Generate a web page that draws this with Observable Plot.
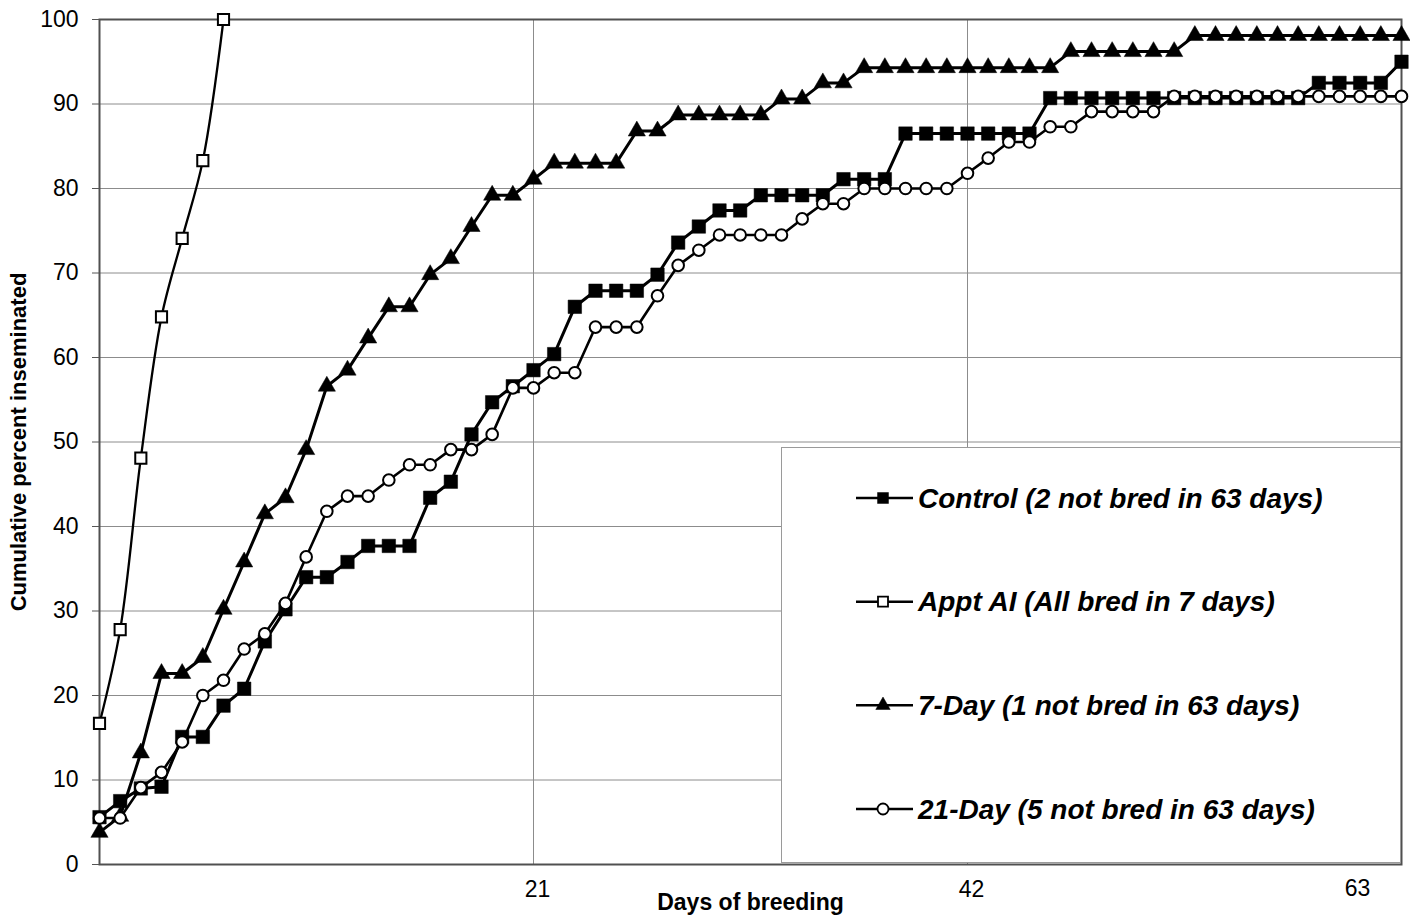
<!DOCTYPE html>
<html>
<head>
<meta charset="utf-8">
<script src="https://cdn.jsdelivr.net/npm/d3@7"></script>
<script src="https://cdn.jsdelivr.net/npm/@observablehq/plot@0.6"></script>
<style>
  body { margin: 0; background: #fff; }
  #chart { position: relative; width: 1410px; height: 917px; }
  #legend { position: absolute; left: 781px; top: 447px; width: 620px; height: 416px;
            box-sizing: border-box; border: 1px solid #9a9a9a; background: #fff; }
</style>
</head>
<body>
<div id="chart"></div>
<script>
// ---- data ----
const days = [0,1,2,3,4,5,6,7,8,9,10,11,12,13,14,15,16,17,18,19,20,21,22,23,24,25,26,27,28,29,30,31,
  32,33,34,35,36,37,38,39,40,41,42,43,44,45,46,47,48,49,50,51,52,53,54,55,56,57,58,59,60,61,62,63];

const control = [5.6,7.5,9.0,9.2,15.1,15.1,18.8,20.8,26.4,30.2,34.0,34.0,35.8,37.7,37.7,37.7,
  43.4,45.3,50.9,54.7,56.6,58.5,60.4,66.0,67.9,67.9,67.9,69.8,73.6,75.5,77.4,77.4,
  79.2,79.2,79.2,79.2,81.1,81.1,81.1,86.5,86.5,86.5,86.5,86.5,86.5,86.5,90.7,90.7,
  90.7,90.7,90.7,90.7,90.7,90.7,90.7,90.7,90.7,90.7,90.7,92.5,92.5,92.5,92.5,95.0];

const apptAI = [16.7,27.8,48.1,64.8,74.1,83.3,100.0];

const sevenDay = [3.8,5.7,13.2,22.6,22.6,24.5,30.2,35.8,41.5,43.4,49.1,56.6,58.5,62.3,66.0,66.0,
  69.8,71.7,75.5,79.2,79.2,81.1,83.0,83.0,83.0,83.0,86.8,86.8,88.7,88.7,88.7,88.7,
  88.7,90.6,90.6,92.5,92.5,94.3,94.3,94.3,94.3,94.3,94.3,94.3,94.3,94.3,94.3,96.2,
  96.2,96.2,96.2,96.2,96.2,98.1,98.1,98.1,98.1,98.1,98.1,98.1,98.1,98.1,98.1,98.1];

const twentyOneDay = [5.5,5.5,9.1,10.9,14.5,20.0,21.8,25.5,27.3,30.9,36.4,41.8,43.6,43.6,45.5,47.3,
  47.3,49.1,49.1,50.9,56.4,56.4,58.2,58.2,63.6,63.6,63.6,67.3,70.9,72.7,74.5,74.5,
  74.5,74.5,76.4,78.2,78.2,80.0,80.0,80.0,80.0,80.0,81.8,83.6,85.5,85.5,87.3,87.3,
  89.1,89.1,89.1,89.1,90.9,90.9,90.9,90.9,90.9,90.9,90.9,90.9,90.9,90.9,90.9,90.9];

const seriesNames = ["Control (2 not bred in 63 days)", "Appt AI (All bred in 7 days)",
  "7-Day (1 not bred in 63 days)", "21-Day (5 not bred in 63 days)"];

const yTicks = [0,10,20,30,40,50,60,70,80,90,100];
const xGridTicks = [21,42];
const xLastTick = [63];
const xLabel = "Days of breeding";
const yLabel = "Cumulative percent inseminated";

// ---- tables ----
const rows = vals => vals.map((v, i) => ({day: days[i], value: v}));
const controlRows = rows(control);
const apptRows = rows(apptAI);
const sevenRows = rows(sevenDay);
const twentyOneRows = rows(twentyOneDay);

const FONT = "'Liberation Sans', Arial, sans-serif";

const chart = Plot.plot({
  width: 1410,
  height: 917,
  marginLeft: 99,
  marginTop: 19,
  marginRight: 9,
  marginBottom: 53,
  x: {domain: [0, 63]},
  y: {domain: [0, 100]},
  style: {fontFamily: FONT, background: "#fff", color: "#000"},
  marks: [
    Plot.gridY(yTicks, {stroke: "#8c8c8c", strokeOpacity: 1, strokeWidth: 1}),
    Plot.gridX(xGridTicks, {stroke: "#8c8c8c", strokeOpacity: 1, strokeWidth: 1}),
    Plot.frame({stroke: "#505050", strokeWidth: 2}),
    Plot.axisY(yTicks, {tickSize: 7, tickPadding: 14, fontSize: 23, label: null, stroke: "#555"}),
    Plot.axisX(xGridTicks, {tickSize: 0, tickPadding: 16, fontSize: 23, label: null, dx: 4}),
    Plot.text(xLastTick, {x: d => d, text: d => String(d), frameAnchor: "bottom", dy: 24, dx: -44,
      fontSize: 23, lineAnchor: "middle", fill: "#000"}),

    // Control
    Plot.line(controlRows, {x: "day", y: "value", stroke: "#000", strokeWidth: 3}),
    Plot.dot(controlRows, {x: "day", y: "value", symbol: "square", r: 7.6, fill: "#000", stroke: "#000", strokeWidth: 0.5}),
    // Appt AI
    Plot.line(apptRows, {x: "day", y: "value", stroke: "#000", strokeWidth: 2.3, curve: "catmull-rom"}),
    Plot.dot(apptRows, {x: "day", y: "value", symbol: "square", r: 6.3, fill: "#fff", stroke: "#000", strokeWidth: 2}),
    // 7-Day
    Plot.line(sevenRows, {x: "day", y: "value", stroke: "#000", strokeWidth: 3}),
    Plot.dot(sevenRows, {x: "day", y: "value", symbol: "triangle", r: 6.4, fill: "#000", stroke: "#000", strokeWidth: 0.5}),
    // 21-Day
    Plot.line(twentyOneRows, {x: "day", y: "value", stroke: "#000", strokeWidth: 2.6}),
    Plot.dot(twentyOneRows, {x: "day", y: "value", symbol: "circle", r: 5.8, fill: "#fff", stroke: "#000", strokeWidth: 2}),

    // axis titles
    Plot.text([xLabel], {text: d => d, frameAnchor: "bottom", dy: 38, lineAnchor: "middle", textAnchor: "middle",
      fontSize: 23, fontWeight: "bold", fill: "#000"}),
    Plot.text([yLabel], {text: d => d, frameAnchor: "left", dx: -81, rotate: -90, lineAnchor: "middle", textAnchor: "middle",
      fontSize: 22, fontWeight: "bold", fill: "#000"})
  ]
});

const container = document.getElementById("chart");
container.appendChild(chart);

// ---- legend (inside the plot area, as in the original) ----
const legend = document.createElement("div");
legend.id = "legend";
container.appendChild(legend);

const legendSymbols = [
  {type: d3.symbolSquare, size: 120, fill: "#000", stroke: "#000", sw: 0.5},
  {type: d3.symbolSquare, size: 100, fill: "#fff", stroke: "#000", sw: 1.8},
  {type: d3.symbolTriangle, size: 90, fill: "#000", stroke: "#000", sw: 0.5},
  {type: d3.symbolCircle, size: 95, fill: "#fff", stroke: "#000", sw: 1.8}
];
const rowY = d3.scalePoint().domain(seriesNames).range([50, 361]);

const svg = d3.select(legend).append("svg")
  .attr("width", 618).attr("height", 414)
  .style("display", "block");

const g = svg.selectAll("g").data(seriesNames).join("g")
  .attr("transform", d => `translate(0,${rowY(d)})`);
g.append("line").attr("x1", 74).attr("x2", 131).attr("y1", 0).attr("y2", 0)
  .attr("stroke", "#000").attr("stroke-width", 2.5);
g.append("path")
  .attr("transform", "translate(101,0)")
  .attr("d", (d, i) => d3.symbol().type(legendSymbols[i].type).size(legendSymbols[i].size)())
  .attr("fill", (d, i) => legendSymbols[i].fill)
  .attr("stroke", (d, i) => legendSymbols[i].stroke)
  .attr("stroke-width", (d, i) => legendSymbols[i].sw);
g.append("text")
  .attr("x", 136).attr("y", 0).attr("dy", "0.35em")
  .attr("font-family", FONT).attr("font-size", 28)
  .attr("font-weight", "bold").attr("font-style", "italic")
  .attr("fill", "#000")
  .text(d => d);
</script>
</body>
</html>
